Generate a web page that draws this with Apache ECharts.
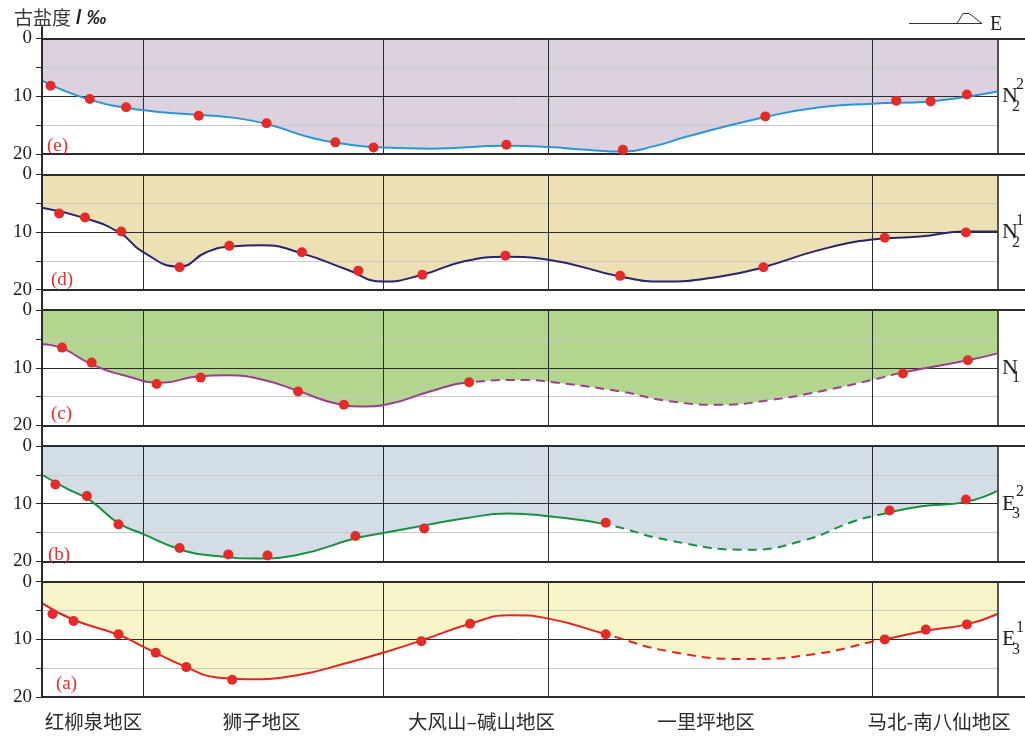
<!DOCTYPE html>
<html>
<head>
<meta charset="utf-8">
<script src="https://cdn.jsdelivr.net/npm/echarts@6/dist/echarts.min.js"></script>
<style>
  html, body { margin: 0; padding: 0; background: #ffffff; }
  #chart { width: 1025px; height: 740px; }
</style>
</head>
<body>
<div id="chart"></div>
<script>
// Regions along the section (relative distance 0-100, west to east)
const regionNames = ['红柳泉地区', '狮子地区', '大风山–碱山地区', '一里坪地区', '马北-南八仙地区'];
const regionLabelAt = [5.4, 23.0, 46.0, 69.5, 93.9];
const regionBounds = [10.56, 35.73, 53.0, 86.92];
const sectionEnd = 100;

// Paleosalinity (‰): measured samples [distance, salinity] and fitted trend nodes
const samplesE = [[0.9, 8.2], [5.0, 10.5], [8.8, 11.9], [16.4, 13.4], [23.5, 14.7], [30.7, 18.0], [34.7, 18.9],
  [48.6, 18.4], [60.8, 19.3], [75.7, 13.5], [89.4, 10.8], [93.0, 10.9], [96.8, 9.7]];
const trendE = [[0, 7.3], [5.0, 10.6], [10.5, 12.4], [16.2, 13.2], [20.4, 13.8], [23.9, 15.0], [28.4, 17.3],
  [32.2, 18.4], [35.7, 18.9], [40.6, 19.1], [48.6, 18.6], [53.0, 18.8], [57.0, 19.3], [60.8, 19.6],
  [64.0, 18.7], [67.5, 17.0], [75.7, 13.6], [81.4, 11.9], [86.9, 11.3], [93.0, 10.9], [96.8, 10.1], [100, 9.2]];

const samplesD = [[1.8, 6.8], [4.5, 7.5], [8.3, 9.9], [14.4, 16.1], [19.6, 12.4], [27.2, 13.5], [33.1, 16.7],
  [39.8, 17.4], [48.5, 14.1], [60.5, 17.6], [75.5, 16.1], [88.2, 11.0], [96.7, 10.1]];
const trendD = [[0, 5.8], [4.5, 7.6], [8.2, 10.2], [10.5, 13.4], [14.4, 16.0], [17.2, 13.5], [19.8, 12.5],
  [23.0, 12.3], [27.2, 13.7], [31.9, 16.5], [35.7, 18.6], [39.8, 17.4], [44.1, 15.1],
  [48.6, 14.3], [53.0, 14.8], [60.5, 17.7], [65.0, 18.6], [71.0, 17.7], [75.5, 16.1], [81.4, 13.1],
  [86.9, 11.3], [91.9, 10.8], [96.7, 9.9], [100, 9.9]];

const samplesC = [[2.1, 6.5], [5.2, 9.1], [12.0, 12.8], [16.6, 11.7], [26.8, 14.1], [31.6, 16.4], [44.7, 12.5],
  [90.1, 11.0], [96.9, 8.7]];
const trendC = [[0, 5.9], [2.1, 6.6], [5.2, 9.4], [9.0, 11.5], [12.5, 12.6], [16.2, 11.5], [19.5, 11.3],
  [23.2, 12.1], [26.8, 14.0], [30.8, 16.2], [33.6, 16.7], [36.5, 16.2], [40.6, 14.1], [44.7, 12.5],
  [50.4, 12.1], [53.0, 12.4], [60.5, 14.1], [65.7, 15.8], [71.0, 16.4], [76.2, 15.6], [81.4, 14.1],
  [86.9, 12.1], [90.1, 10.8], [96.9, 8.7], [100, 7.5]];
const inferredC = [44.7, 90.1];

const samplesB = [[1.4, 6.7], [4.7, 8.7], [8.0, 13.6], [14.4, 17.7], [19.5, 18.8], [23.6, 19.0], [32.8, 15.6],
  [40.0, 14.3], [59.0, 13.3], [88.7, 11.2], [96.7, 9.3]];
const trendB = [[0, 5.0], [2.6, 7.4], [5.0, 9.4], [8.0, 13.4], [10.5, 15.2], [14.4, 17.9], [18.3, 19.1],
  [22.5, 19.5], [26.7, 18.9], [32.8, 16.0], [35.7, 15.1], [40.6, 13.6], [44.1, 12.6], [48.8, 11.7],
  [53.0, 12.2], [59.0, 13.6], [65.7, 16.4], [73.8, 18.0], [79.7, 16.4], [84.9, 13.1],
  [88.0, 11.8], [91.9, 10.5], [96.7, 9.7], [100, 7.8]];
const inferredB = [59.0, 88.0];

const samplesA = [[1.1, 5.6], [3.3, 6.8], [8.0, 9.1], [11.9, 12.3], [15.1, 14.8], [19.9, 17.0], [39.7, 10.3],
  [44.8, 7.3], [59.0, 9.1], [88.2, 10.0], [92.5, 8.3], [96.8, 7.4]];
const trendA = [[0, 3.7], [3.3, 6.6], [8.0, 9.2], [10.5, 11.2], [15.1, 14.8], [18.3, 16.6], [21.4, 16.9],
  [26.7, 16.2], [31.9, 14.1], [35.7, 12.3], [39.7, 10.2], [44.8, 7.3], [49.0, 5.8],
  [53.0, 6.4], [59.0, 9.1], [65.7, 12.1], [73.8, 13.4], [81.4, 12.4], [86.9, 10.4], [88.2, 10.0],
  [92.5, 8.5], [96.8, 7.4], [100, 5.6]];
const inferredA = [59.0, 88.2];

// Panels from top (youngest) to bottom (oldest)
const panels = [
  { tag: '(e)', tagDx: 5, tagDy: 98, fill: '#dcd1df', line: '#2a96d6', samples: samplesE, trend: trendE, inferred: null, stratum: ['N', '2', '2'] },
  { tag: '(d)', tagDx: 9, tagDy: 96, fill: '#ede0b4', line: '#28236e', samples: samplesD, trend: trendD, inferred: null, stratum: ['N', '2', '1'] },
  { tag: '(c)', tagDx: 9, tagDy: 94, fill: '#b3d68e', line: '#9b3f8d', samples: samplesC, trend: trendC, inferred: inferredC, stratum: ['N', '1', ''] },
  { tag: '(b)', tagDx: 6, tagDy: 100, fill: '#d3dde6', line: '#18903f', samples: samplesB, trend: trendB, inferred: inferredB, stratum: ['E', '3', '2'] },
  { tag: '(a)', tagDx: 14, tagDy: 93, fill: '#f7f5c8', line: '#e3251f', samples: samplesA, trend: trendA, inferred: inferredA, stratum: ['E', '3', '1'] }
];

const LEFT = 42, TOP0 = 38.5, STEP = 135.8, H = 115.4;
const XMAX = 102.88;          // the frame's top and bottom rules run on to the page edge
const SERIF = 'Liberation Serif';
const INK = '#2b2b2b';
const CLEAR = 'rgba(0,0,0,0)';

const grids = [], xAxes = [], yAxes = [], series = [], visualMaps = [], graphics = [];

panels.forEach((p, i) => {
  const top = TOP0 + i * STEP;
  grids.push({ left: LEFT, right: 0, top: top, height: H });
  const bottomPanel = i === panels.length - 1;
  xAxes.push({
    type: 'value', gridIndex: i, min: 0, max: XMAX,
    axisLine: { show: false }, axisTick: { show: false }, splitLine: { show: false },
    axisLabel: bottomPanel ? {
      show: true, customValues: regionLabelAt, margin: 15,
      fontFamily: 'Noto Sans CJK SC', fontSize: 19.5, color: '#2a2a2a',
      formatter: v => {
        let k = 0;
        regionLabelAt.forEach((r, j) => { if (Math.abs(r - v) < Math.abs(regionLabelAt[k] - v)) k = j; });
        return regionNames[k];
      }
    } : { show: false }
  });
  yAxes.push({
    type: 'value', gridIndex: i, inverse: true, min: 0, max: 20, interval: 5, z: 6,
    axisLine: { show: true, lineStyle: { color: INK, width: 2 } },
    axisTick: { show: true, length: 6, lineStyle: { color: INK, width: 1 } },
    axisLabel: {
      margin: 10, color: '#222', fontFamily: SERIF, fontSize: 19,
      formatter: v => (v % 10 === 0 ? String(v) : '')
    },
    splitLine: { show: false }
  });

  const light = { color: '#c9c9c9', width: 1, type: 'solid' };
  const dark = { color: INK, width: 1, type: 'solid' };
  const heavy = { color: INK, width: 2, type: 'solid' };
  const rules = [
    [{ coord: [0, 5], lineStyle: light }, { coord: [sectionEnd, 5] }],
    [{ coord: [0, 15], lineStyle: light }, { coord: [sectionEnd, 15] }],
    [{ coord: [0, 10], lineStyle: dark }, { coord: [sectionEnd, 10] }],
    [{ coord: [0, 0], lineStyle: heavy }, { coord: [XMAX, 0] }],
    [{ coord: [0, 20], lineStyle: heavy }, { coord: [XMAX, 20] }],
    [{ coord: [sectionEnd, 0], lineStyle: { color: INK, width: 1.6, type: 'solid' } }, { coord: [sectionEnd, 20] }]
  ];
  regionBounds.forEach(b => rules.push([{ coord: [b, 0], lineStyle: dark }, { coord: [b, 20] }]));

  // filled band between 0 ‰ and the trend
  series.push({
    type: 'line', xAxisIndex: i, yAxisIndex: i, data: p.trend, smooth: 0.5,
    showSymbol: false, silent: true, z: 1, animation: false,
    lineStyle: { width: 0 }, areaStyle: { color: p.fill, opacity: 1 },
    markLine: {
      silent: true, z: 3, symbol: ['none', 'none'], label: { show: false }, animation: false,
      data: rules
    }
  });

  // trend line: solid where constrained by samples, dashed where inferred
  const solidIdx = series.length;
  series.push({
    type: 'line', xAxisIndex: i, yAxisIndex: i, data: p.trend, smooth: 0.5,
    showSymbol: false, silent: true, z: 4, animation: false,
    color: p.line,
    lineStyle: p.inferred ? { width: 2 } : { color: p.line, width: 2 }
  });
  if (p.inferred) {
    const dashIdx = series.length;
    series.push({
      type: 'line', xAxisIndex: i, yAxisIndex: i, data: p.trend, smooth: 0.5,
      showSymbol: false, silent: true, z: 4, animation: false,
      color: p.line,
      lineStyle: { width: 2, type: [9, 6] }
    });
    visualMaps.push({
      type: 'piecewise', show: false, dimension: 0, seriesIndex: solidIdx,
      pieces: [{ gte: p.inferred[0], lte: p.inferred[1], color: CLEAR }],
      outOfRange: { color: p.line }
    });
    visualMaps.push({
      type: 'piecewise', show: false, dimension: 0, seriesIndex: dashIdx,
      pieces: [{ gte: p.inferred[0], lte: p.inferred[1], color: p.line }],
      outOfRange: { color: CLEAR }
    });
  }

  series.push({
    type: 'scatter', xAxisIndex: i, yAxisIndex: i, data: p.samples, z: 6,
    symbolSize: 10, silent: true, animation: false,
    itemStyle: { color: '#e42b27', opacity: 1 }
  });

  // panel tag
  graphics.push({
    type: 'text', left: LEFT + p.tagDx, top: top + p.tagDy, z: 10, silent: true,
    style: { text: p.tag, fill: '#e3302b', fontFamily: SERIF, fontSize: 19 }
  });
  // stratum code with subscript and superscript
  const [main, sub, sup] = p.stratum;
  graphics.push({
    type: 'text', left: 1002, top: top + 47, z: 10, silent: true,
    style: { text: main, fill: '#222', fontFamily: SERIF, fontSize: 22 }
  });
  graphics.push({
    type: 'text', left: 1012, top: top + 60, z: 10, silent: true,
    style: { text: sub, fill: '#222', fontFamily: SERIF, fontSize: 16 }
  });
  if (sup) {
    graphics.push({
      type: 'text', left: 1016, top: top + 38, z: 10, silent: true,
      style: { text: sup, fill: '#222', fontFamily: SERIF, fontSize: 16 }
    });
  }
});

// one continuous depth axis line down the left side of all panels
grids.push({ left: LEFT, top: 27, bottom: 43, width: 10 });
xAxes.push({ type: 'value', gridIndex: panels.length, show: false, min: 0, max: 1 });
yAxes.push({
  type: 'value', gridIndex: panels.length, min: 0, max: 1, z: 6,
  axisLine: { show: true, lineStyle: { color: INK, width: 2 } },
  axisTick: { show: false }, axisLabel: { show: false }, splitLine: { show: false }
});

// east arrow mark
graphics.push({
  type: 'polyline', silent: true, z: 10,
  shape: { points: [[909, 23.5], [957, 23.5], [963, 13.5], [969, 13.5], [982, 23.5], [957, 23.5]] },
  style: { stroke: '#333', lineWidth: 1, fill: null }
});
graphics.push({
  type: 'text', left: 990, top: 15, z: 10, silent: true,
  style: { text: 'E', fill: '#222', fontFamily: SERIF, fontSize: 20 }
});

const chart = echarts.init(document.getElementById('chart'), null, { renderer: 'canvas' });
chart.setOption({
  animation: false,
  backgroundColor: '#ffffff',
  title: {
    text: '{a|古盐度} {b|/} {c|‰}', left: 9, top: 3,
    textStyle: {
      rich: {
        a: { fontFamily: 'Noto Sans CJK SC', fontSize: 19, color: '#3a3a3a', fontWeight: 'normal' },
        b: { fontFamily: 'Liberation Sans', fontSize: 20, color: '#222', fontWeight: 'bold' },
        c: { fontFamily: 'Liberation Sans', fontSize: 20, color: '#222', fontWeight: 'bold', fontStyle: 'italic' }
      }
    }
  },
  grid: grids,
  xAxis: xAxes,
  yAxis: yAxes,
  visualMap: visualMaps,
  series: series,
  graphic: graphics
});
</script>
</body>
</html>
